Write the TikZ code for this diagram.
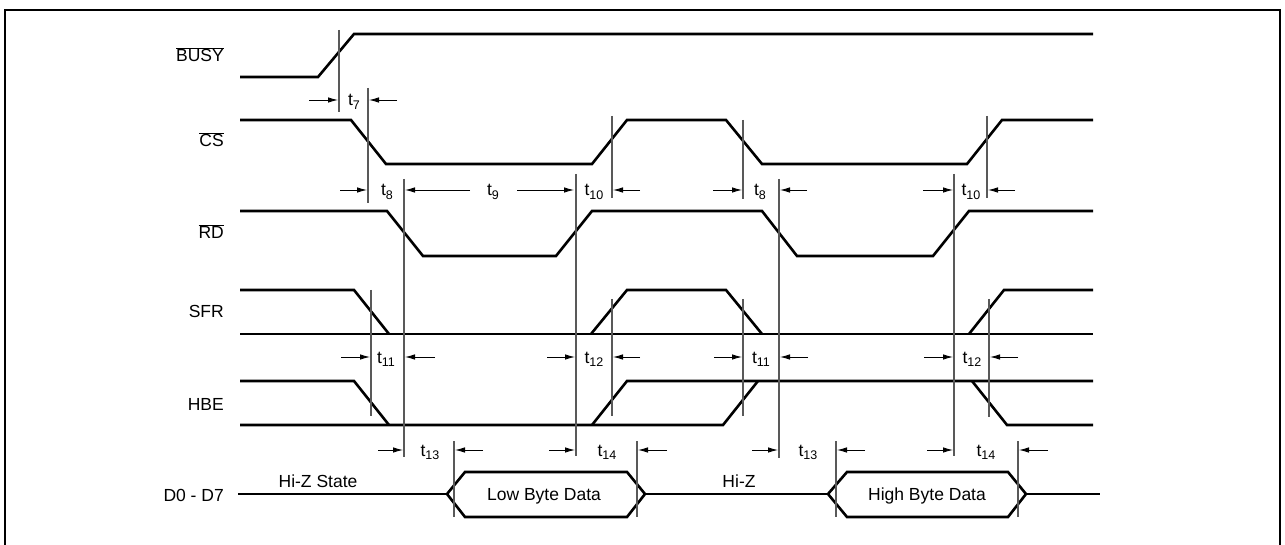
\documentclass[tikz,border=0pt]{standalone}
\usepackage{fontspec}
\setmainfont{Liberation Sans}
\usetikzlibrary{arrows.meta}
\newcommand\tlab[1]{t\raisebox{-0.38ex}{\fontsize{12.5}{12.5}\selectfont #1}}
\begin{document}
\begin{tikzpicture}[x=1pt,y=-1pt,
 sig/.style={line width=2.6pt,line join=miter,line cap=butt},
 tline/.style={line width=1.1pt,draw=black!65},
 arr/.style={line width=0.9pt,-{Latex[length=10pt,width=5.5pt]}},
 sname/.style={font=\fontsize{17.5}{20}\selectfont,anchor=base east,inner sep=0pt},
 tname/.style={font=\fontsize{17.5}{20}\selectfont,anchor=base,inner sep=0pt},
 dtext/.style={font=\fontsize{17.5}{20}\selectfont,anchor=base,inner sep=0pt}]
\useasboundingbox (0,0) rectangle (1285,545);
\clip (0,0) rectangle (1285,545);
% frame
\draw[line width=2.5pt] (5,560) -- (5,10) -- (1280,10) -- (1280,560);

% signal names
\node[sname] (nbusy) at (224,62) {$\overline{\mbox{BUSY}}$};
\node[sname] (ncs) at (224,147) {$\overline{\mbox{CS}}$};
\node[sname] (nrd) at (224,239) {$\overline{\mbox{RD}}$};
\node[sname] (nsfr) at (224,317) {SFR};
\node[sname] (nhbe) at (224,410) {HBE};
\node[sname] (nd) at (224,501) {D0 - D7};

% waveforms
\draw[sig] (240,77) -- (318,77) -- (354,34) -- (1093,34);
\draw[sig] (240,120) -- (351,120) -- (386,164) -- (592,164) -- (627,120) -- (726,120) -- (762,164) -- (967,164) -- (1002,120) -- (1093,120);
\draw[sig] (240,211) -- (387,211) -- (423,256) -- (556,256) -- (592,211) -- (762,211) -- (797,256) -- (933,256) -- (969,211) -- (1093,211);
% SFR
\draw[sig] (240,290) -- (354,290) -- (389,334);
\draw[sig] (240,334) -- (1093,334);
\draw[sig] (591,334) -- (627,290) -- (726,290) -- (762,334);
\draw[sig] (969,334) -- (1004,290) -- (1093,290);
% HBE
\draw[sig] (240,381) -- (354,381) -- (389,425);
\draw[sig] (240,425) -- (723,425) -- (758,381);
\draw[sig] (592,425) -- (627,381) -- (1093,381);
\draw[sig] (972,381) -- (1007,425) -- (1093,425);
% data bus
\draw[sig] (238,494) -- (447,494);
\draw[sig] (447,494) -- (465,472) -- (627,472) -- (645,494) -- (627,517) -- (465,517) -- cycle;
\draw[sig] (645,494) -- (828,494);
\draw[sig] (828,494) -- (847,472) -- (1008,472) -- (1026,494) -- (1008,517) -- (847,517) -- cycle;
\draw[sig] (1026,494) -- (1100,494);
\node[dtext] (hiz1) at (318,487) {Hi-Z State};
\node[dtext] (low) at (544,500) {Low Byte Data};
\node[dtext] (hiz2) at (739,487) {Hi-Z};
\node[dtext] (high) at (927,500) {High Byte Data};

% timing reference lines
\draw[tline] (339,30) -- (339,112);
\draw[tline] (368,88) -- (368,203);
\draw[tline] (404,179) -- (404,457);
\draw[tline] (576,174) -- (576,456);
\draw[tline] (612,116) -- (612,198);
\draw[tline] (743,120) -- (743,199);
\draw[tline] (779,179) -- (779,458);
\draw[tline] (954,174) -- (954,456);
\draw[tline] (987,116) -- (987,198);
\draw[tline] (371,290) -- (371,416);
\draw[tline] (612,299) -- (612,416);
\draw[tline] (743,299) -- (743,416);
\draw[tline] (989,299) -- (989,417);
\draw[tline] (454,441) -- (454,517);
\draw[tline] (637,441) -- (637,517);
\draw[tline] (836,441) -- (836,517);
\draw[tline] (1018,441) -- (1018,517);

% t7
\draw[arr] (309,100) -- (338,100);
\draw[arr] (397,100) -- (369,100);
\node[tname] (t7) at (354,106) {\tlab{7}};
% t8 t9 t10 row
\draw[arr] (340,190) -- (367,190);
\node[tname] (t8a) at (387,196) {\tlab{8}};
\draw[arr] (470,190) -- (405,190);
\draw[arr] (517,190) -- (574,190);
\node[tname] (t9) at (493,196) {\tlab{9}};
\node[tname] (t10a) at (594,196) {\tlab{10}};
\draw[arr] (640,190) -- (613,190);
\draw[arr] (713,190) -- (742,190);
\node[tname] (t8b) at (760,196) {\tlab{8}};
\draw[arr] (807,190) -- (780,190);
\draw[arr] (923,190) -- (953,190);
\node[tname] (t10b) at (971,196) {\tlab{10}};
\draw[arr] (1015,190) -- (988,190);
% t11 t12 row
\draw[arr] (341,357) -- (370,357);
\node[tname] (t11a) at (386,363) {\tlab{11}};
\draw[arr] (435,357) -- (405,357);
\draw[arr] (547,357) -- (575,357);
\node[tname] (t12a) at (594,363) {\tlab{12}};
\draw[arr] (640,357) -- (613,357);
\draw[arr] (714,357) -- (742,357);
\node[tname] (t11b) at (761,363) {\tlab{11}};
\draw[arr] (808,357) -- (780,357);
\draw[arr] (924,357) -- (953,357);
\node[tname] (t12b) at (972,363) {\tlab{12}};
\draw[arr] (1018,357) -- (990,357);
% t13 t14 row
\draw[arr] (378,450) -- (403,450);
\node[tname] (t13a) at (430,456) {\tlab{13}};
\draw[arr] (483,450) -- (455,450);
\draw[arr] (549,450) -- (575,450);
\node[tname] (t14a) at (607,456) {\tlab{14}};
\draw[arr] (667,450) -- (638,450);
\draw[arr] (752,450) -- (778,450);
\node[tname] (t13b) at (808,456) {\tlab{13}};
\draw[arr] (865,450) -- (837,450);
\draw[arr] (927,450) -- (953,450);
\node[tname] (t14b) at (986,456) {\tlab{14}};
\draw[arr] (1048,450) -- (1019,450);
\end{tikzpicture}
\end{document}
